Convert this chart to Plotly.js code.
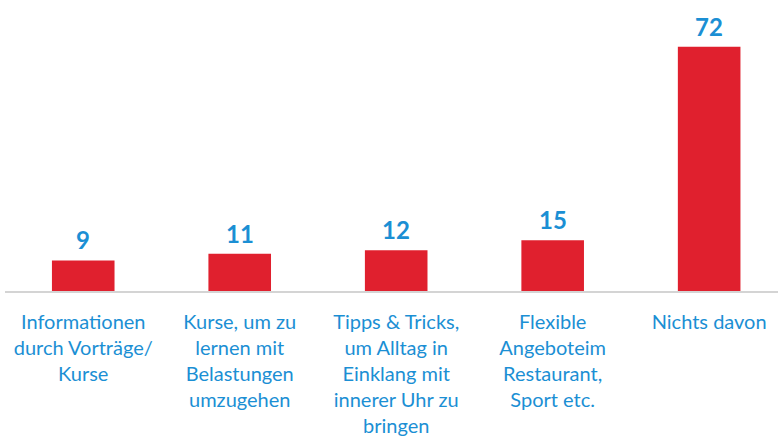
<!DOCTYPE html>
<html>
<head>
<meta charset="utf-8">
<script src="https://cdn.plot.ly/plotly-3.0.1.min.js"></script>
<style>html,body{margin:0;padding:0;background:#fff;}#chart{width:778px;height:439px;}</style>
</head>
<body>
<div id="chart"></div>
<script>
var categories = [
  "Informationen<br>durch Vorträge/<br>Kurse",
  "Kurse, um zu<br>lernen mit<br>Belastungen<br>umzugehen",
  "Tipps & Tricks,<br>um Alltag in<br>Einklang mit<br>innerer Uhr zu<br>bringen",
  "Flexible<br>Angeboteim<br>Restaurant,<br>Sport etc.",
  "Nichts davon"
];
var values = [9, 11, 12, 15, 72];

var blue = "#1b8fd4";
var red = "#e0202e";

var trace = {
  type: "bar",
  x: categories,
  y: values,
  width: 0.4,
  marker: {color: red},
  hoverinfo: "skip"
};

var annotations = categories.map(function (c, i) {
  return {
    x: c, y: values[i], xref: "x", yref: "y",
    text: "<b>" + values[i] + "</b>",
    showarrow: false, yanchor: "bottom", yshift: 4,
    font: {family: "Lato, 'Open Sans', sans-serif", size: 24, color: blue}
  };
});

var layout = {
  width: 778, height: 439,
  margin: {l: 5, r: 0, t: 0, b: 148},
  paper_bgcolor: "#fff", plot_bgcolor: "#fff",
  showlegend: false,
  xaxis: {
    type: "category",
    range: [-0.5, 4.44],
    showline: true, linecolor: "#d4d4d4", linewidth: 2,
    showgrid: false, zeroline: false, ticks: "",
    tickfont: {family: "Lato, 'Open Sans', sans-serif", size: 20, color: blue},
    tickangle: 0,
    ticklabelstandoff: 12
  },
  yaxis: {
    range: [0, 85.8],
    visible: false, showgrid: false, zeroline: false
  },
  annotations: annotations
};

Plotly.newPlot("chart", [trace], layout, {displayModeBar: false, staticPlot: true});
</script>
</body>
</html>
